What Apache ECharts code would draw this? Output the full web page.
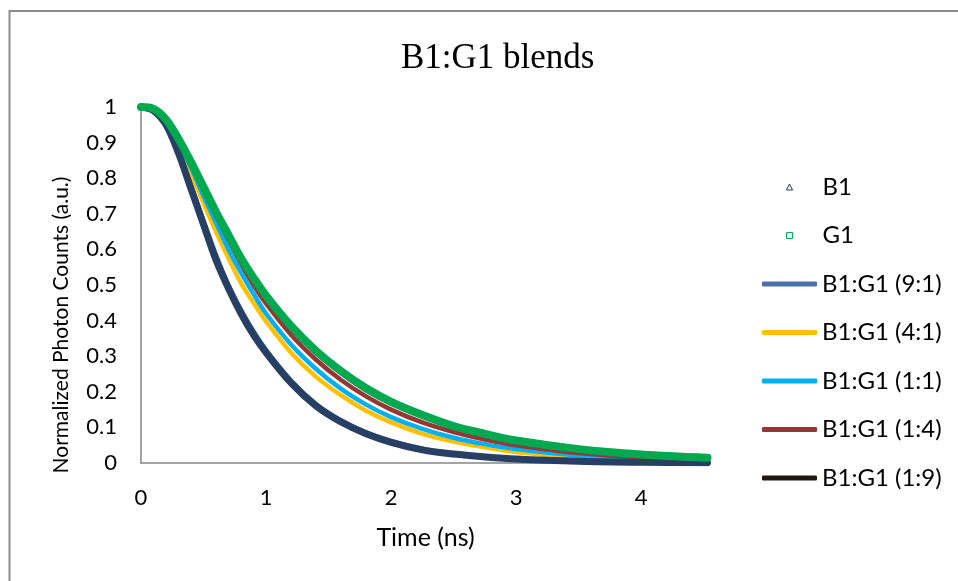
<!DOCTYPE html>
<html>
<head>
<meta charset="utf-8">
<script src="https://cdn.jsdelivr.net/npm/echarts@6/dist/echarts.min.js"></script>
<style>html,body{margin:0;padding:0;background:#fff;}#c{width:958px;height:581px;}</style>
</head>
<body>
<div id="c"></div>
<script>
// Time (ns)
var timeNs = [0, 0.1, 0.2, 0.3, 0.4, 0.5, 0.6, 0.7, 0.8, 0.9, 1.0, 1.2, 1.4, 1.6, 1.8, 2.0, 2.25, 2.5, 2.75, 3.0, 3.5, 4.0, 4.53];
// Normalized photon counts
var b1     = [1, 0.99, 0.95, 0.87, 0.77, 0.67, 0.57, 0.49, 0.42, 0.36, 0.31, 0.225, 0.16, 0.115, 0.082, 0.058, 0.037, 0.025, 0.017, 0.011, 0.0048, 0.002, 0.001];
var g1     = [1, 0.995, 0.965, 0.91, 0.845, 0.775, 0.705, 0.64, 0.575, 0.52, 0.47, 0.385, 0.315, 0.258, 0.21, 0.172, 0.135, 0.104, 0.082, 0.063, 0.039, 0.024, 0.015];
var mix91  = [1, 0.99, 0.952, 0.875, 0.78, 0.68, 0.585, 0.5, 0.43, 0.37, 0.318, 0.232, 0.166, 0.12, 0.086, 0.062, 0.04, 0.027, 0.018, 0.012, 0.0055, 0.0025, 0.0012];
var mix41  = [1, 0.993, 0.96, 0.895, 0.815, 0.73, 0.65, 0.575, 0.505, 0.45, 0.398, 0.31, 0.242, 0.19, 0.147, 0.114, 0.082, 0.06, 0.044, 0.031, 0.016, 0.008, 0.004];
var mix11  = [1, 0.994, 0.962, 0.9, 0.83, 0.75, 0.675, 0.6, 0.535, 0.475, 0.42, 0.333, 0.264, 0.208, 0.164, 0.129, 0.096, 0.071, 0.053, 0.039, 0.021, 0.011, 0.006];
var mix14  = [1, 0.995, 0.964, 0.905, 0.84, 0.765, 0.695, 0.627, 0.56, 0.5, 0.448, 0.36, 0.29, 0.233, 0.187, 0.15, 0.114, 0.087, 0.066, 0.05, 0.028, 0.016, 0.009];
var mix19  = [1, 0.995, 0.965, 0.908, 0.843, 0.772, 0.702, 0.636, 0.571, 0.515, 0.465, 0.38, 0.31, 0.253, 0.205, 0.168, 0.131, 0.101, 0.079, 0.06, 0.037, 0.022, 0.014];
var seriesNames = ['B1', 'G1', 'B1:G1 (9:1)', 'B1:G1 (4:1)', 'B1:G1 (1:1)', 'B1:G1 (1:4)', 'B1:G1 (1:9)'];
var yTicks = [0, 0.1, 0.2, 0.3, 0.4, 0.5, 0.6, 0.7, 0.8, 0.9, 1];
var xTicks = [0, 1, 2, 3, 4];

function pts(v) { return timeNs.map(function (t, i) { return [t, v[i]]; }); }

var FONT = 'Lato';
var chart = echarts.init(document.getElementById('c'), null, {renderer: 'canvas'});

function lineSeries(name, vals, color, width, z) {
  return {
    name: name, type: 'line', data: pts(vals), symbol: 'none', smooth: 0.35,
    lineStyle: {color: color, width: width, cap: 'round'}, itemStyle: {color: color},
    z: z, animation: false
  };
}

var legendText = {fontFamily: FONT, fontSize: 24, color: '#000'};

chart.setOption({
  animation: false,
  backgroundColor: '#fff',
  title: {
    text: 'B1:G1 blends', left: 396, top: 36,
    textStyle: {fontFamily: 'Liberation Serif', fontSize: 35, fontWeight: 'normal', color: '#000'}
  },
  graphic: [{
    type: 'rect', shape: {x: 9.5, y: 11, width: 1000, height: 1000},
    style: {fill: 'none', stroke: '#8c8c8c', lineWidth: 2}, silent: true
  }],
  grid: {left: 141, top: 107, width: 569, height: 356, containLabel: false},
  xAxis: {
    type: 'value', min: 0, max: 4.55, interval: 1,
    name: 'Time (ns)', nameLocation: 'middle', nameGap: 62,
    nameTextStyle: {fontFamily: FONT, fontSize: 25, color: '#000'},
    axisLine: {lineStyle: {color: '#868686', width: 1.5}},
    axisTick: {show: false}, splitLine: {show: false},
    axisLabel: {fontFamily: FONT, fontSize: 22, color: '#000', margin: 24, showMaxLabel: false,
      formatter: function (v) { return xTicks.indexOf(v) >= 0 ? String(v) : ''; }}
  },
  yAxis: {
    type: 'value', min: 0, max: 1, interval: 0.1,
    name: 'Normalized Photon Counts (a.u.)', nameLocation: 'middle', nameGap: 69,
    nameTextStyle: {fontFamily: FONT, fontSize: 21, color: '#000', padding: [0, 80, 0, 0]},
    axisLine: {show: true, lineStyle: {color: '#868686', width: 1.5}},
    axisTick: {show: false}, splitLine: {show: false},
    axisLabel: {fontFamily: FONT, fontSize: 22, color: '#000', margin: 24,
      formatter: function (v) { var r = Math.round(v * 10) / 10; return yTicks.indexOf(r) >= 0 ? String(r) : ''; }}
  },
  legend: [{
    orient: 'vertical', left: 786, top: 175, padding: 0, itemWidth: 6, itemHeight: 6, itemGap: 24.5,
    symbolKeepAspect: true,
    textStyle: Object.assign({padding: [0, 0, 0, 25]}, legendText),
    data: [
      {name: seriesNames[0], icon: 'triangle', itemStyle: {color: '#fff', borderColor: '#1f3864', borderWidth: 1}},
      {name: seriesNames[1], icon: 'rect', itemStyle: {color: '#fff', borderColor: '#00b050', borderWidth: 1}}
    ]
  }, {
    orient: 'vertical', left: 762, top: 272, padding: 0, itemWidth: 55, itemHeight: 5, itemGap: 24.5,
    textStyle: legendText,
    data: [
      {name: seriesNames[2], icon: 'roundRect'},
      {name: seriesNames[3], icon: 'roundRect'},
      {name: seriesNames[4], icon: 'roundRect'},
      {name: seriesNames[5], icon: 'roundRect'},
      {name: seriesNames[6], icon: 'roundRect'}
    ]
  }],
  series: [
    lineSeries(seriesNames[2], mix91, '#4a72a8', 4.5, 2),
    lineSeries(seriesNames[3], mix41, '#ffc000', 4.5, 3),
    lineSeries(seriesNames[4], mix11, '#00b0f0', 4.5, 4),
    lineSeries(seriesNames[5], mix14, '#953735', 4.5, 5),
    lineSeries(seriesNames[6], mix19, '#1d1b10', 4.5, 6),
    lineSeries(seriesNames[0], b1, '#263f63', 7, 7),
    lineSeries(seriesNames[1], g1, '#00a84f', 8, 8)
  ]
});
</script>
</body>
</html>
